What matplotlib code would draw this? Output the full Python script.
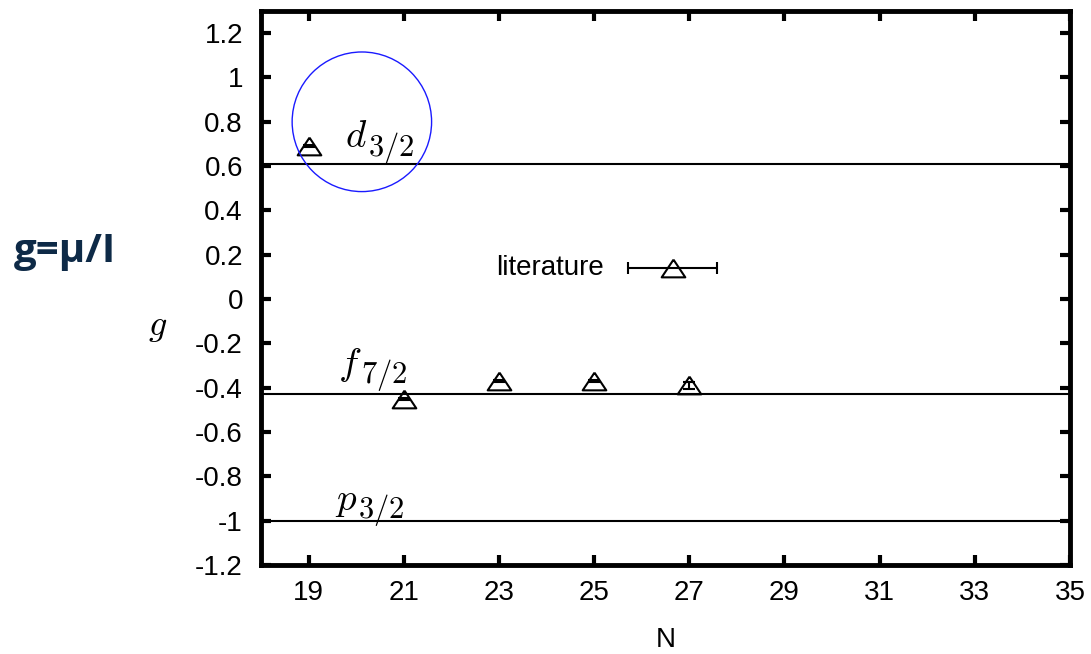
import matplotlib.pyplot as plt
from matplotlib.patches import Ellipse

# measured g-factors vs neutron number
n_vals = [19, 21, 23, 25, 27]
g_vals = [0.69, -0.45, -0.37, -0.37, -0.39]
g_errs = [0.004, 0.004, 0.004, 0.004, 0.016]

# literature value
lit_n = [26.65]
lit_g = [0.14]
lit_nerr = [0.93]

# single-particle reference lines (letter, subscript, g)
ref_letters = ['d', 'f', 'p']
ref_subs = ['3/2', '7/2', '3/2']
ref_g = [0.61, -0.43, -1.0]
ref_label_pos = [(20.24, 0.685), (20.11, -0.343), (20.03, -0.952)]

x_ticks = [19, 21, 23, 25, 27, 29, 31, 33, 35]
y_ticks = [-1.2, -1.0, -0.8, -0.6, -0.4, -0.2, 0.0, 0.2, 0.4, 0.6, 0.8, 1.0, 1.2]

plt.rcParams['font.family'] = ['Liberation Sans', 'DejaVu Sans']
plt.rcParams['mathtext.fontset'] = 'cm'

# gnuplot style triangle, wider than tall
tri = [(0, 0.75), (-1.0, -0.75), (1.0, -0.75), (0, 0.75)]

fig = plt.figure(figsize=(10.91, 6.54), dpi=100)
ax = fig.add_axes([0.2392, 0.1361, 0.9808 - 0.2392, 0.9832 - 0.1361])

for g in ref_g:
    ax.axhline(g, color='black', lw=1.5, zorder=1)
for let, sub, (x, y) in zip(ref_letters, ref_subs, ref_label_pos):
    ax.text(x, y, '$%s$' % let, fontsize=28, ha='right', va='baseline')
    ax.annotate('$%s$' % sub, (x, y), xytext=(0, -6), textcoords='offset points',
                fontsize=22, ha='left', va='baseline')

ax.errorbar(n_vals, g_vals, yerr=g_errs, fmt='none', ecolor='black',
            elinewidth=1.5, capsize=4.2, capthick=1.5, zorder=3)
ax.plot(n_vals, g_vals, ls='none', marker=tri, ms=17, mfc='none', mec='black',
        mew=1.5, zorder=3)
ax.errorbar(lit_n, lit_g, xerr=lit_nerr, fmt='none', ecolor='black',
            elinewidth=1.5, capsize=4.5, capthick=1.5, zorder=3)
ax.plot(lit_n, lit_g, ls='none', marker=tri, ms=17, mfc='none', mec='black',
        mew=1.5, zorder=3)
ax.text(25.2, lit_g[0], 'literature', fontsize=20, ha='right', va='center')

# highlight circle
ax.add_patch(Ellipse((20.12, 0.8), 2.93, 0.63, fill=False, ec='#1a1aff', lw=1.0, zorder=4))

ax.set_xlim(18, 35)
ax.set_ylim(-1.2, 1.3)
ax.set_xticks(x_ticks)
ax.set_yticks(y_ticks)
ax.set_yticklabels(['%g' % v for v in y_ticks])
ax.tick_params(direction='in', length=7, width=3, labelsize=20, top=True, right=True)
ax.tick_params(axis='y', pad=13)
ax.tick_params(axis='x', pad=11)
for s in ax.spines.values():
    s.set_linewidth(3.5)

ax.set_xlabel('N', fontsize=20, labelpad=15)
ax.text(-0.128, 0.43, '$g$', transform=ax.transAxes, fontsize=26, ha='center', va='center')

fig.text(0.060, 0.616, 'g=μ/I', fontsize=29, fontweight='bold', color='#0e2a47',
         ha='center', va='center', family=['Open Sans', 'DejaVu Sans'])

plt.savefig('out.png', dpi=100)
